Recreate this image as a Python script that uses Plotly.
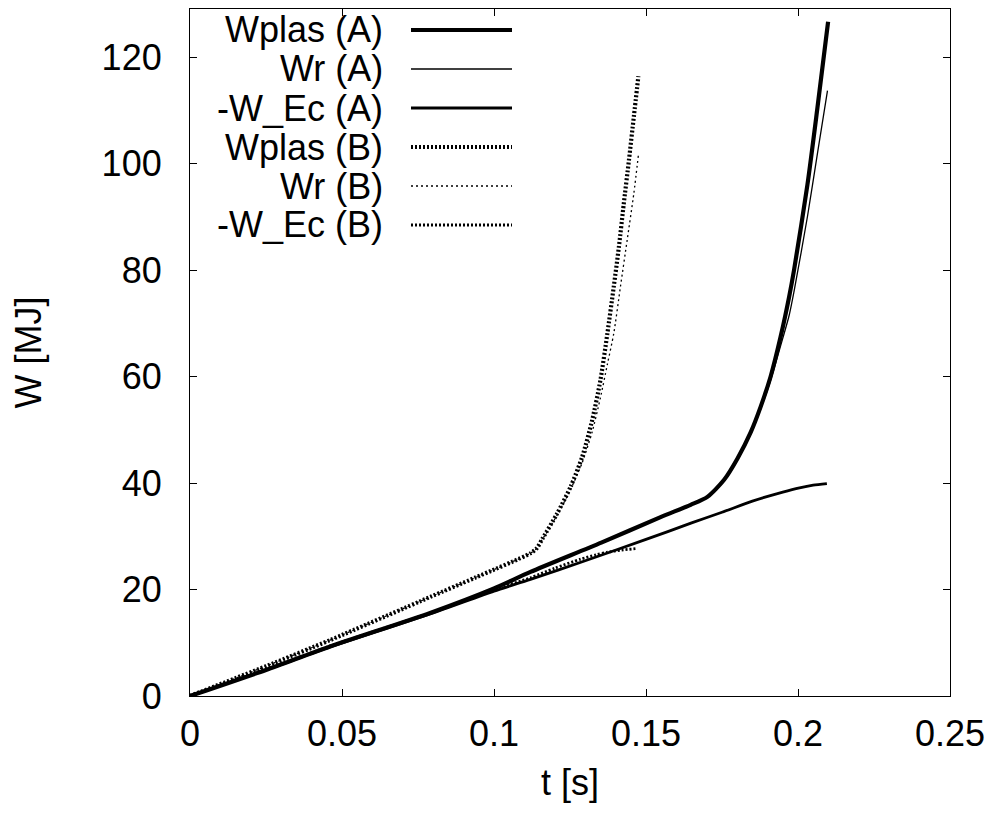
import plotly.graph_objects as go

# ---- data ----
t_wplas_a = [0, 0.025, 0.0461, 0.079, 0.1, 0.112, 0.1353, 0.1548, 0.1647, 0.1702, 0.1757, 0.1801,
             0.1845, 0.1877, 0.1910, 0.1943, 0.1971, 0.1987, 0.2031, 0.2064, 0.2099]
w_wplas_a = [0, 4.9, 9.3, 15.6, 20.2, 23.3, 28.8, 33.6, 35.9, 37.4, 40.6, 44.6,
             49.6, 54.3, 60.0, 67.5, 75.0, 80.0, 96.0, 110.5, 126.6]

t_wr_a = [0, 0.025, 0.0461, 0.079, 0.1, 0.112, 0.1353, 0.1548, 0.1647, 0.1702, 0.1757, 0.1801,
          0.1845, 0.1877, 0.1910, 0.1943, 0.1971, 0.1987, 0.2031, 0.2064, 0.2097]
w_wr_a = [0, 4.9, 9.3, 15.5, 20.1, 23.2, 28.7, 33.5, 35.8, 37.3, 40.4, 44.4,
          49.3, 53.9, 59.3, 65.8, 71.5, 76.0, 90.0, 101.9, 113.7]

t_wec_a = [0, 0.025, 0.0461, 0.079, 0.1, 0.112, 0.13, 0.15, 0.165, 0.175, 0.185, 0.195,
           0.2005, 0.205, 0.2095]
w_wec_a = [0, 4.9, 9.2, 15.4, 19.7, 21.9, 25.4, 29.4, 32.5, 34.5, 36.6, 38.3,
           39.1, 39.6, 39.9]

t_wplas_b = [0, 0.025, 0.0461, 0.079, 0.0937, 0.112, 0.1140, 0.1160, 0.1208, 0.1252, 0.1290,
             0.1323, 0.1350, 0.1373, 0.1394, 0.1411, 0.1427, 0.1444, 0.1460, 0.1475]
w_wplas_b = [0, 5.6, 10.5, 18.6, 22.2, 26.8, 27.7, 29.6, 34.3, 39.3, 44.9,
             51.8, 59.3, 68.1, 76.9, 84.4, 92.5, 100.7, 108.8, 116.4]

t_wr_b = [0, 0.025, 0.0461, 0.079, 0.0937, 0.112, 0.1140, 0.1160, 0.1208, 0.1252, 0.1290,
          0.1323, 0.1350, 0.1373, 0.1394, 0.1416, 0.1438, 0.1460, 0.1475]
w_wr_b = [0, 5.6, 10.5, 18.6, 22.2, 26.8, 27.7, 29.5, 34.0, 38.8, 43.8,
          49.6, 56.0, 62.3, 68.1, 76.9, 85.6, 94.4, 101.6]

t_wec_b = [0, 0.025, 0.0461, 0.079, 0.1, 0.112, 0.12, 0.1285, 0.1335, 0.1373, 0.142, 0.1471]
w_wec_b = [0, 5.0, 9.4, 15.6, 20.0, 22.2, 24.0, 25.7, 26.5, 27.0, 27.4, 27.7]

series_names = ["Wplas (A)", "Wr (A)", "-W_Ec (A)", "Wplas (B)", "Wr (B)", "-W_Ec (B)"]
series_t = [t_wplas_a, t_wr_a, t_wec_a, t_wplas_b, t_wr_b, t_wec_b]
series_w = [w_wplas_a, w_wr_a, w_wec_a, w_wplas_b, w_wr_b, w_wec_b]

x_ticks = [0, 0.05, 0.1, 0.15, 0.2, 0.25]
x_ticklabels = ["0", "0.05", "0.1", "0.15", "0.2", "0.25"]
y_ticks = [0, 20, 40, 60, 80, 100, 120]

# ---- styles ----
styles = [
    dict(width=4.2, dash="solid"),
    dict(width=1.3, dash="solid"),
    dict(width=2.8, dash="solid"),
    dict(width=4.2, dash="2px,2px"),
    dict(width=1.3, dash="2px,3px"),
    dict(width=2.8, dash="2px,2px"),
]

FONT = "Liberation Sans, Arial, Helvetica, sans-serif"
FS = 36

# page body adds an 8px offset; plot frame in screen px: left 190, right 950, top 9, bottom 696
W_FIG, H_FIG = 1000, 812
L, R, T, B = 182, 58, 1, 124
PX_PER_MJ = 5.325
Y_MAX = (H_FIG - T - B) / PX_PER_MJ

fig = go.Figure()
for name, t, w, st in zip(series_names, series_t, series_w, styles):
    fig.add_trace(go.Scatter(x=t, y=w, mode="lines", name=name, showlegend=False,
                             line=dict(color="black", width=st["width"], dash=st["dash"],
                                       shape="spline", smoothing=0.7)))

# ---- custom gnuplot-style key: right-aligned text, sample to the right ----
row_y_px = [30, 69, 108, 147, 186, 225]
scr_left, scr_bottom = L + 8, H_FIG - B + 8
pw = W_FIG - L - R
ph = H_FIG - T - B
for name, st, ypx in zip(series_names, styles, row_y_px):
    yp = (scr_bottom - ypx) / ph
    fig.add_annotation(x=(385 - scr_left) / pw, y=yp, xref="paper", yref="paper",
                       text=name, showarrow=False, xanchor="right", yanchor="middle",
                       font=dict(family=FONT, size=FS, color="black"))
    fig.add_shape(type="line", xref="paper", yref="paper",
                  x0=(411 - scr_left) / pw, x1=(512 - scr_left) / pw, y0=yp, y1=yp,
                  line=dict(color="black", width=st["width"], dash=st["dash"]))

axis_common = dict(showgrid=False, zeroline=False, showline=True, linecolor="black",
                   linewidth=1.2, mirror="ticks", ticks="inside", ticklen=7, tickwidth=1,
                   tickcolor="black", tickfont=dict(family=FONT, size=FS, color="black"))

fig.update_xaxes(range=[0, 0.25], tickvals=x_ticks, ticktext=x_ticklabels,
                 title=dict(text="t [s]", font=dict(family=FONT, size=FS, color="black"), standoff=16),
                 ticklabelstandoff=6, **axis_common)
fig.update_yaxes(range=[0, Y_MAX], tickvals=y_ticks,
                 title=dict(text="W [MJ]", font=dict(family=FONT, size=FS, color="black"), standoff=50),
                 ticklabelstandoff=20, **axis_common)

fig.update_layout(width=W_FIG, height=H_FIG, paper_bgcolor="white", plot_bgcolor="white",
                  margin=dict(l=L, r=R, t=T, b=B, pad=0, autoexpand=False),
                  font=dict(family=FONT, size=FS, color="black"))

fig.write_html("out.html")
